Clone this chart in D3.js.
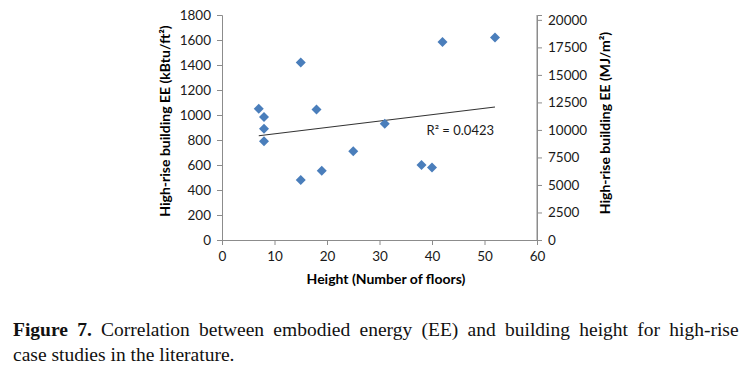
<!DOCTYPE html>
<html><head><meta charset="utf-8">
<script src="https://cdn.jsdelivr.net/npm/d3@7/dist/d3.min.js"></script>
<style>body{margin:0;background:#fff}svg{display:block}</style>
</head><body>
<svg id="chart" width="750" height="374"></svg>
<script>
// Data
const floors = [7, 8, 8, 8, 15, 15, 18, 19, 25, 31, 38, 40, 42, 52];
const eeKbtu = [1050, 985, 890, 790, 1420, 480, 1045, 555, 710, 930, 600, 580, 1585, 1620];
const trendX = [7, 52];
const trendY = [834, 1064];
const xTicks = [0, 10, 20, 30, 40, 50, 60];
const yLeftTicks = [0, 200, 400, 600, 800, 1000, 1200, 1400, 1600, 1800];
const yRightTicks = [0, 2500, 5000, 7500, 10000, 12500, 15000, 17500, 20000];
const kbtuToMJ = 11.357;
const r2Label = "R² = 0.0423";

const svg = d3.select("#chart");
const L = 222, R = 537, T = 15, B = 240;
const x = d3.scaleLinear().domain([0, 60]).range([L, R]);
const y = d3.scaleLinear().domain([0, 1800]).range([B, T]);
const y2 = d3.scaleLinear().domain([0, 1800 * kbtuToMJ]).range([B, T]);
const font = "Lato, 'Open Sans', sans-serif";
const axisCol = "#8c8c8c";
const fmt = d3.format("d");

function style(g) {
  g.selectAll("path,line").attr("stroke", axisCol).attr("stroke-width", 1);
  g.selectAll("text").attr("font-family", font).attr("font-size", 13.5).attr("fill", "#1a1a1a");
}
svg.append("g").attr("transform", `translate(0,${B})`)
  .call(d3.axisBottom(x).tickValues(xTicks).tickFormat(fmt).tickSizeOuter(0).tickSize(5).tickPadding(6))
  .call(style);
svg.append("g").attr("transform", `translate(${L},0)`)
  .call(d3.axisLeft(y).tickValues(yLeftTicks).tickFormat(fmt).tickSizeOuter(0).tickSize(5).tickPadding(6))
  .call(style);
svg.append("g").attr("transform", `translate(${R},0)`)
  .call(d3.axisRight(y2).tickValues(yRightTicks).tickFormat(fmt).tickSizeOuter(0).tickSize(5).tickPadding(6))
  .call(style);
svg.append("line").attr("x1", R).attr("x2", R).attr("y1", T).attr("y2", B)
  .attr("stroke", axisCol);

// trendline
svg.append("line")
  .attr("x1", x(trendX[0])).attr("y1", y(trendY[0]))
  .attr("x2", x(trendX[1])).attr("y2", y(trendY[1]))
  .attr("stroke", "#333").attr("stroke-width", 1.2);

// points
const pts = floors.map((f, i) => ({ f, v: eeKbtu[i] }));
svg.append("g").selectAll("path").data(pts).join("path")
  .attr("transform", d => `translate(${x(d.f)},${y(d.v)})`)
  .attr("d", "M0,-5L5,0L0,5L-5,0Z")
  .attr("fill", "#4a7ebb");

// R2 label
svg.append("text").attr("x", 494).attr("y", 135).attr("text-anchor", "end")
  .attr("font-family", font).attr("font-size", 13).attr("fill", "#1a1a1a")
  .text(r2Label);

// axis titles
const tfs = 14;
svg.append("text").attr("x", 386).attr("y", 284).attr("text-anchor", "middle")
  .attr("font-family", font).attr("font-size", tfs).attr("font-weight", "bold")
  .text("Height (Number of floors)");
svg.append("text").attr("transform", `translate(170,121) rotate(-90)`).attr("text-anchor", "middle")
  .attr("font-family", font).attr("font-size", tfs).attr("font-weight", "bold")
  .text("High-rise building EE (kBtu/ft²)");
svg.append("text").attr("transform", `translate(610,123) rotate(-90)`).attr("text-anchor", "middle")
  .attr("font-family", font).attr("font-size", tfs).attr("font-weight", "bold")
  .text("High-rise building EE (MJ/m²)");

// caption
const serif = "'Liberation Serif', 'Times New Roman', serif";
const cfs = 19.5;
const c1 = svg.append("text").attr("x", 13).attr("y", 336)
  .attr("font-family", serif).attr("font-size", cfs).attr("fill", "#111");
c1.append("tspan").attr("font-weight", "bold").text("Figure 7.");
c1.append("tspan").text(" Correlation between embodied energy (EE) and building height for high-rise");
const natural = c1.node().getComputedTextLength();
const spaces = 12;
c1.attr("word-spacing", Math.max(0, (743 - 13 - natural) / spaces));
svg.append("text").attr("x", 13).attr("y", 361)
  .attr("font-family", serif).attr("font-size", cfs).attr("fill", "#111")
  .text("case studies in the literature.");
</script>
</body></html>
